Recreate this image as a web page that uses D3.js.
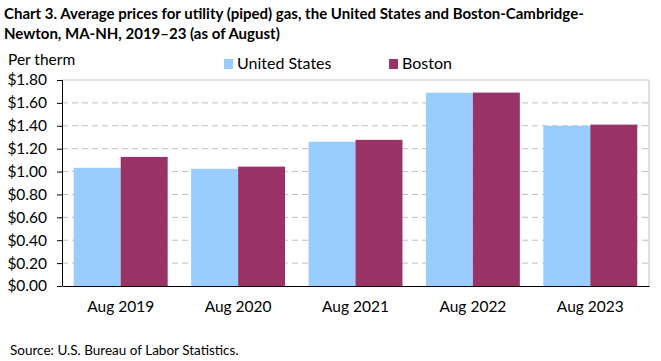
<!DOCTYPE html>
<html lang="en">
<head>
  <meta charset="UTF-8">
  <title>chart 3</title>
  <script src="https://d3js.org/d3.v7.min.js"></script>
  <style>
    body { margin: 0; background: #fff; }
    text { font-family: Lato, "Open Sans", sans-serif; fill: #000; }
  </style>
</head>
<body>
  <svg id="chart" width="661" height="361"></svg>

  <script>
    // values (dollars per therm, August of each year)
    const categories = ["Aug 2019", "Aug 2020", "Aug 2021", "Aug 2022", "Aug 2023"];
    const seriesNames = ["United States", "Boston"];
    const usValues = [1.033, 1.024, 1.261, 1.689, 1.400];
    const bostonValues = [1.128, 1.043, 1.277, 1.690, 1.410];
    const yTicks = [0, 0.2, 0.4, 0.6, 0.8, 1.0, 1.2, 1.4, 1.6, 1.8];

    const colors = { "United States": "#99ccff", "Boston": "#993366" };

    const svg = d3.select("svg#chart");
    const margin = { top: 80, right: 12, bottom: 75, left: 62 };
    const width = 661 - margin.left - margin.right;
    const height = 361 - margin.top - margin.bottom;

    // title
    const title = svg.append("text").attr("font-weight", "bold").attr("font-size", 15);
    title.append("tspan").attr("x", 4).attr("y", 19).text("Chart 3. Average prices for utility (piped) gas, the United States and Boston-Cambridge-");
    title.append("tspan").attr("x", 4).attr("y", 39).text("Newton, MA-NH, 2019\u201323 (as of August)");

    svg.append("text").attr("x", 8).attr("y", 65).attr("font-size", 15.5).text("Per therm");

    const g = svg.append("g").attr("transform", `translate(${margin.left},${margin.top})`);

    const x = d3.scaleBand().domain(categories).range([0, width]).paddingInner(0.2).paddingOuter(0.1);
    const x1 = d3.scaleBand().domain(seriesNames).range([0, x.bandwidth()]);
    const y = d3.scaleLinear().domain([0, 1.8]).range([height, 0]);

    // dashed gridlines
    g.append("g").selectAll("line").data(yTicks.filter(d => d > 0 && d < 1.8))
      .join("line")
      .attr("x1", 0).attr("x2", width)
      .attr("y1", d => y(d)).attr("y2", d => y(d))
      .attr("stroke", "#bfbfbf").attr("stroke-dasharray", "6,4");

    // plot border top / right
    g.append("path")
      .attr("d", `M0,${y(1.8)}H${width}V${height}`)
      .attr("fill", "none").attr("stroke", "#bfbfbf");

    const rows = categories.map((c, i) => ({ cat: c, vals: [
      { name: "United States", v: usValues[i] },
      { name: "Boston", v: bostonValues[i] }
    ] }));

    g.append("g").selectAll("g").data(rows).join("g")
      .attr("transform", d => `translate(${x(d.cat)},0)`)
      .selectAll("rect").data(d => d.vals).join("rect")
      .attr("x", d => x1(d.name))
      .attr("width", x1.bandwidth())
      .attr("y", d => y(d.v))
      .attr("height", d => height - y(d.v))
      .attr("fill", d => colors[d.name]);

    // y axis
    const yAxis = g.append("g")
      .call(d3.axisLeft(y).tickValues(yTicks).tickFormat(d => "$" + d.toFixed(2)).tickSize(5).tickPadding(10));
    yAxis.select(".domain").attr("stroke", "#000").attr("d", `M0.5,0V${height}`);
    yAxis.selectAll("text").attr("font-size", 15.5).attr("font-family", "Lato, sans-serif");

    // x axis
    const xAxis = g.append("g").attr("transform", `translate(0,${height})`)
      .call(d3.axisBottom(x).tickSize(0).tickPadding(15));
    xAxis.select(".domain").attr("stroke", "#000");
    xAxis.selectAll("text").attr("font-size", 15.5).attr("font-family", "Lato, sans-serif");

    // legend
    const legendX = [224, 389];
    const legend = svg.append("g").selectAll("g").data(seriesNames).join("g")
      .attr("transform", (d, i) => `translate(${legendX[i]},59)`);
    legend.append("rect").attr("width", 9).attr("height", 10).attr("fill", d => colors[d]);
    legend.append("text").attr("x", 13).attr("y", 10).attr("font-size", 16).text(d => d);

    svg.append("text").attr("x", 10).attr("y", 355).attr("font-size", 13.5)
      .text("Source: U.S. Bureau of Labor Statistics.");
  </script>
</body>
</html>
